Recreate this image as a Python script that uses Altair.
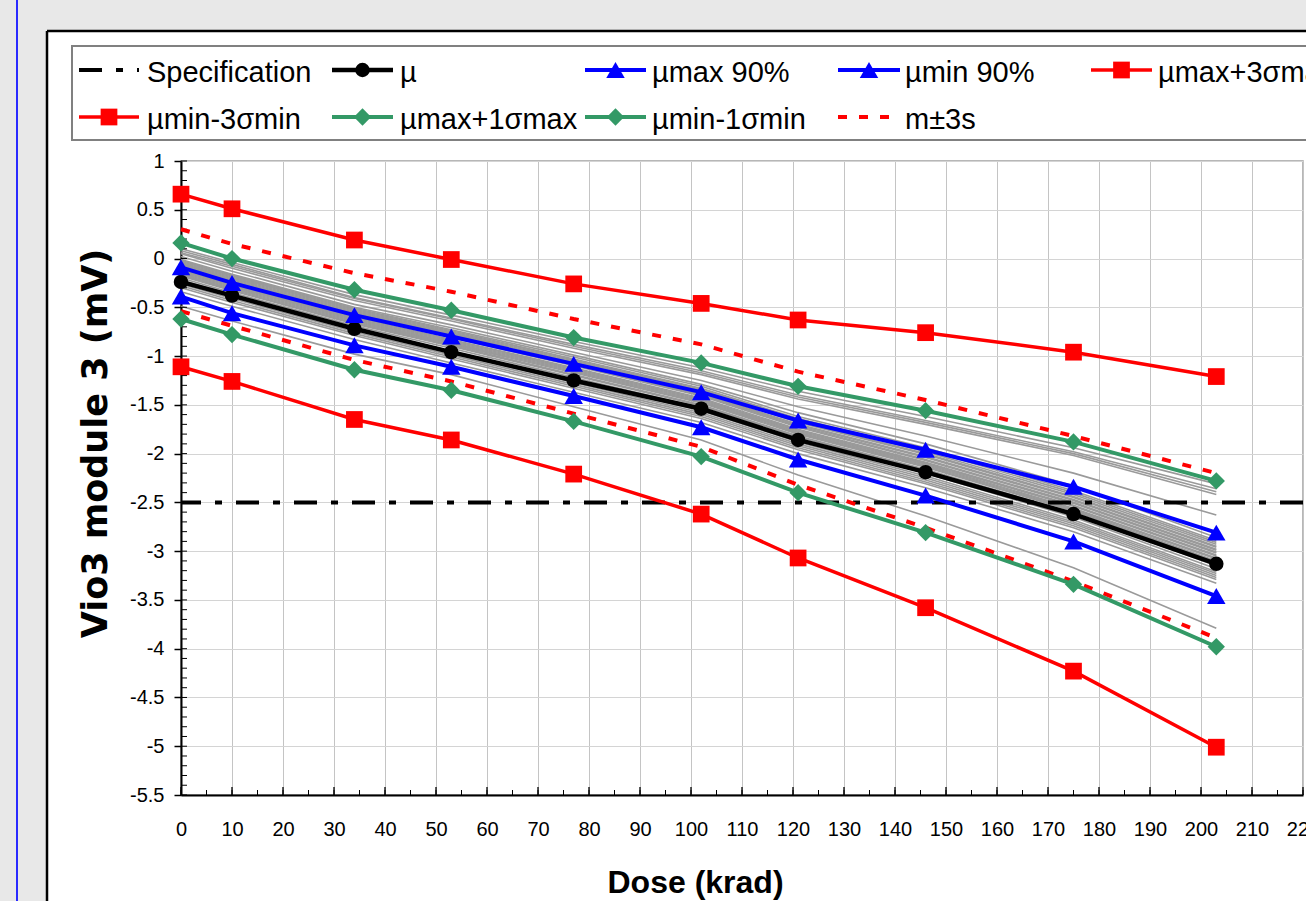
import altair as alt
import pandas as pd

# ---------------- data ----------------
DOSE = [0, 10, 34, 53, 77, 102, 121, 146, 175, 203]

MU = [-0.24, -0.38, -0.72, -0.96, -1.25, -1.54, -1.86, -2.19, -2.62, -3.13]
MU_MAX_90 = [-0.09, -0.25, -0.58, -0.80, -1.08, -1.37, -1.66, -1.96, -2.34, -2.81]
MU_MIN_90 = [-0.39, -0.56, -0.89, -1.11, -1.41, -1.73, -2.06, -2.43, -2.90, -3.46]
MU_MAX_3S = [0.66, 0.51, 0.19, -0.01, -0.26, -0.46, -0.63, -0.76, -0.96, -1.21]
MU_MIN_3S = [-1.11, -1.26, -1.65, -1.86, -2.21, -2.62, -3.07, -3.58, -4.23, -5.01]
MU_MAX_1S = [0.16, 0.00, -0.32, -0.53, -0.81, -1.07, -1.31, -1.56, -1.88, -2.28]
MU_MIN_1S = [-0.62, -0.78, -1.14, -1.35, -1.67, -2.03, -2.40, -2.81, -3.34, -3.98]
M_PLUS_3S = [0.30, 0.15, -0.15, -0.34, -0.62, -0.88, -1.16, -1.45, -1.82, -2.20]
M_MINUS_3S = [-0.54, -0.69, -1.04, -1.26, -1.59, -1.93, -2.32, -2.76, -3.31, -3.89]
SPEC = -2.5

GRAY = [
    [0.10, -0.04, -0.37, -0.58, -0.85, -1.12, -1.36, -1.62, -1.94, -2.31],
    [0.08, -0.06, -0.40, -0.61, -0.88, -1.15, -1.40, -1.66, -1.98, -2.36],
    [0.06, -0.08, -0.41, -0.62, -0.90, -1.17, -1.42, -1.68, -2.00, -2.39],
    [0.05, -0.10, -0.43, -0.64, -0.92, -1.19, -1.44, -1.70, -2.02, -2.42],
    [0.02, -0.13, -0.47, -0.68, -0.96, -1.25, -1.52, -1.82, -2.20, -2.63],
    [-0.01, -0.16, -0.50, -0.71, -0.99, -1.29, -1.58, -1.90, -2.33, -2.86],
    [-0.02, -0.17, -0.51, -0.73, -1.01, -1.31, -1.62, -1.94, -2.38, -2.89],
    [-0.03, -0.18, -0.52, -0.74, -1.03, -1.33, -1.64, -1.96, -2.40, -2.91],
    [-0.04, -0.19, -0.53, -0.75, -1.04, -1.34, -1.65, -1.98, -2.42, -2.93],
    [-0.05, -0.20, -0.54, -0.76, -1.05, -1.35, -1.67, -2.00, -2.44, -2.95],
    [-0.06, -0.21, -0.55, -0.77, -1.06, -1.36, -1.68, -2.01, -2.45, -2.96],
    [-0.07, -0.22, -0.56, -0.78, -1.07, -1.38, -1.70, -2.03, -2.47, -2.98],
    [-0.08, -0.23, -0.57, -0.79, -1.08, -1.39, -1.71, -2.04, -2.48, -2.99],
    [-0.09, -0.24, -0.58, -0.80, -1.09, -1.40, -1.72, -2.06, -2.50, -3.01],
    [-0.10, -0.25, -0.59, -0.81, -1.10, -1.41, -1.73, -2.07, -2.51, -3.02],
    [-0.11, -0.26, -0.60, -0.83, -1.12, -1.43, -1.75, -2.09, -2.53, -3.04],
    [-0.12, -0.27, -0.61, -0.84, -1.13, -1.44, -1.76, -2.10, -2.54, -3.05],
    [-0.13, -0.28, -0.62, -0.85, -1.14, -1.45, -1.77, -2.11, -2.56, -3.07],
    [-0.14, -0.29, -0.63, -0.86, -1.15, -1.46, -1.78, -2.12, -2.57, -3.08],
    [-0.15, -0.30, -0.64, -0.87, -1.16, -1.47, -1.79, -2.13, -2.58, -3.10],
    [-0.16, -0.31, -0.65, -0.88, -1.17, -1.48, -1.80, -2.14, -2.59, -3.11],
    [-0.17, -0.32, -0.66, -0.89, -1.19, -1.50, -1.82, -2.16, -2.61, -3.13],
    [-0.18, -0.33, -0.67, -0.90, -1.20, -1.51, -1.83, -2.17, -2.62, -3.15],
    [-0.20, -0.35, -0.69, -0.92, -1.22, -1.53, -1.85, -2.20, -2.65, -3.18],
    [-0.22, -0.37, -0.71, -0.95, -1.25, -1.56, -1.88, -2.23, -2.68, -3.21],
    [-0.24, -0.39, -0.73, -0.97, -1.27, -1.58, -1.90, -2.25, -2.70, -3.23],
    [-0.26, -0.41, -0.75, -0.99, -1.29, -1.60, -1.92, -2.27, -2.72, -3.25],
    [-0.28, -0.43, -0.77, -1.01, -1.31, -1.62, -1.94, -2.29, -2.74, -3.27],
    [-0.30, -0.45, -0.79, -1.03, -1.33, -1.64, -1.96, -2.31, -2.76, -3.29],
    [-0.34, -0.49, -0.83, -1.07, -1.37, -1.68, -2.00, -2.35, -2.80, -3.33],
    [-0.49, -0.64, -0.98, -1.19, -1.52, -1.86, -2.22, -2.64, -3.17, -3.79],
]

X_TICKS = list(range(0, 230, 10))
X_MINOR = list(range(0, 225, 5))
Y_TICKS = [1, 0.5, 0, -0.5, -1, -1.5, -2, -2.5, -3, -3.5, -4, -4.5, -5, -5.5]
Y_MINOR = [round(k / 10, 1) for k in range(-55, 11)]

# ---------------- layout ----------------
W, H = 1122, 634
PAD_L, PAD_T = 181, 161

RED, BLUE, GREEN, BLACK = "#ff0000", "#0000ff", "#339966", "#000000"

x_scale = alt.Scale(domain=[0, 220], nice=False, zero=False)
y_scale = alt.Scale(domain=[-5.5, 1], nice=False, zero=False)

x_axis = alt.Axis(
    values=X_TICKS, format="d", title="Dose (krad)",
    titleFont="Liberation Sans", titleFontSize=32, titleFontWeight="bold",
    titleColor="black", titleX=514, titleY=97, titleAlign="center",
    titleBaseline="alphabetic",
    labelFont="Liberation Sans", labelFontSize=20, labelColor="black",
    labelPadding=24, labelOverlap=False, labelFlush=False,
    ticks=False, tickSize=0, domainColor="black", domainWidth=2,
    grid=True, gridColor="#c4c4c4", gridWidth=1,
)
y_axis = alt.Axis(
    values=Y_TICKS, labelExpr="toString(datum.value)",
    title="Vio3 module 3 (mV)",
    titleFont="DejaVu Sans", titleFontSize=35, titleFontWeight="bold",
    titleColor="black", titleAngle=270, titleX=-86, titleY=282,
    titleAlign="center", titleBaseline="middle",
    labelFont="Liberation Sans", labelFontSize=20, labelColor="black",
    labelPadding=10, labelOverlap=False, labelFlush=False,
    tickSize=7, tickColor="black", tickWidth=1.5,
    domainColor="black", domainWidth=2,
    grid=True, gridColor="#d4d4d4", gridWidth=1,
)


def X(field="dose"):
    return alt.X(f"{field}:Q", scale=x_scale, axis=x_axis)


def Y(field="v"):
    return alt.Y(f"{field}:Q", scale=y_scale, axis=y_axis)


one = pd.DataFrame({"a": [0]})
layers = []

# ---------------- decorations (page around the chart) ----------------
BG = "#e8e8e8"
layers.append(alt.Chart(one).mark_rect(color=BG).encode(
    x=alt.value(-PAD_L), x2=alt.value(47 - PAD_L),
    y=alt.value(-PAD_T), y2=alt.value(901 - PAD_T)))
layers.append(alt.Chart(one).mark_rect(color=BG).encode(
    x=alt.value(-PAD_L), x2=alt.value(1306 - PAD_L + 5),
    y=alt.value(-PAD_T), y2=alt.value(31 - PAD_T)))
layers.append(alt.Chart(one).mark_rule(color="#2a2aff", strokeWidth=2).encode(
    x=alt.value(17 - PAD_L), y=alt.value(-PAD_T), y2=alt.value(901 - PAD_T)))
layers.append(alt.Chart(one).mark_rule(color="black", strokeWidth=2.5).encode(
    x=alt.value(47 - PAD_L), y=alt.value(31 - PAD_T), y2=alt.value(901 - PAD_T)))
layers.append(alt.Chart(one).mark_rule(color="black", strokeWidth=2.5).encode(
    y=alt.value(31 - PAD_T), x=alt.value(47 - PAD_L), x2=alt.value(1306 - PAD_L + 5)))
# legend box
layers.append(alt.Chart(one).mark_rect(fill="white", stroke="#808080", strokeWidth=2).encode(
    x=alt.value(72 - PAD_L), x2=alt.value(1306 - PAD_L + 20),
    y=alt.value(46 - PAD_T), y2=alt.value(140 - PAD_T)))

# ---------------- individual module curves (gray) ----------------
gray_rows = []
for i, vals in enumerate(GRAY):
    for d, v in zip(DOSE, vals):
        gray_rows.append({"dose": d, "v": v, "id": f"m{i}"})
gray_df = pd.DataFrame(gray_rows)
layers.append(alt.Chart(gray_df).mark_line(color="#9a9a9a", strokeWidth=1.6).encode(
    x=X(), y=Y(), detail="id:N"))

# ---------------- specification ----------------
layers.append(alt.Chart(pd.DataFrame({"v": [SPEC]})).mark_rule(
    color="black", strokeWidth=4, strokeDash=[23, 14, 7, 14]).encode(y=Y()))

# ---------------- minor ticks ----------------
layers.append(alt.Chart(pd.DataFrame({"v": Y_MINOR})).mark_rule(
    color="black", strokeWidth=1).encode(y=Y(), x=alt.value(0), x2=alt.value(6)))
layers.append(alt.Chart(pd.DataFrame({"dose": X_MINOR})).mark_rule(
    color="black", strokeWidth=1).encode(x=X(), y=alt.value(H), y2=alt.value(H - 5)))
layers.append(alt.Chart(pd.DataFrame({"dose": X_TICKS})).mark_rule(
    color="black", strokeWidth=1.3).encode(x=X(), y=alt.value(H), y2=alt.value(H - 8)))

# ---------------- series ----------------
def series(values, color, width, shape=None, size=0, dash=None):
    df = pd.DataFrame({"dose": DOSE, "v": values})
    base = alt.Chart(df).encode(x=X(), y=Y())
    kw = dict(color=color, strokeWidth=width)
    if dash:
        kw["strokeDash"] = dash
    out = [base.mark_line(**kw)]
    if shape:
        out.append(base.mark_point(shape=shape, size=size, filled=True,
                                   color=color, opacity=1))
    return out


STYLE = {
    "spec": dict(color=BLACK, width=4, dash=[23, 14, 7, 14]),
    "mu": dict(color=BLACK, width=4.5, shape="circle", size=210),
    "max90": dict(color=BLUE, width=4, shape="triangle-up", size=340),
    "min90": dict(color=BLUE, width=4, shape="triangle-up", size=340),
    "max3": dict(color=RED, width=3.5, shape="square", size=280),
    "min3": dict(color=RED, width=3.5, shape="square", size=280),
    "max1": dict(color=GREEN, width=4, shape="diamond", size=300),
    "min1": dict(color=GREEN, width=4, shape="diamond", size=300),
    "m3s": dict(color=RED, width=4, dash=[9, 12]),
}

layers += series(M_PLUS_3S, **STYLE["m3s"])
layers += series(M_MINUS_3S, **STYLE["m3s"])
layers += series(MU_MAX_1S, **STYLE["max1"])
layers += series(MU_MIN_1S, **STYLE["min1"])
layers += series(MU_MAX_3S, **STYLE["max3"])
layers += series(MU_MIN_3S, **STYLE["min3"])
layers += series(MU, **STYLE["mu"])
layers += series(MU_MAX_90, **STYLE["max90"])
layers += series(MU_MIN_90, **STYLE["min90"])

# ---------------- legend ----------------
LEGEND_LABELS = ["Specification", "µ", "µmax 90%", "µmin 90%", "µmax+3σmax",
                 "µmin-3σmin", "µmax+1σmax", "µmin-1σmin", "m±3s"]
LEGEND_KEYS = ["spec", "mu", "max90", "min90", "max3", "min3", "max1", "min1", "m3s"]
COL_SYM = [(79, 139), (332, 393), (585, 646), (838, 900), (1091, 1152)]
COL_TXT = [147, 400, 652, 905, 1158]
ROW_SYM = [70, 117]
ROW_TXT = [82, 129]

for idx, (lab, key) in enumerate(zip(LEGEND_LABELS, LEGEND_KEYS)):
    r, c = divmod(idx, 5)
    st = STYLE[key]
    x0, x1 = COL_SYM[c]
    ys = ROW_SYM[r] - PAD_T
    kw = dict(color=st["color"], strokeWidth=st["width"])
    if st.get("dash"):
        kw["strokeDash"] = st["dash"]
    layers.append(alt.Chart(one).mark_rule(**kw).encode(
        x=alt.value(x0 - PAD_L), x2=alt.value(x1 - PAD_L), y=alt.value(ys)))
    if st.get("shape"):
        layers.append(alt.Chart(one).mark_point(
            shape=st["shape"], size=st["size"], filled=True, color=st["color"], opacity=1
        ).encode(x=alt.value((x0 + x1) / 2 - PAD_L), y=alt.value(ys)))
    layers.append(alt.Chart(pd.DataFrame({"label": [lab]})).mark_text(
        align="left", baseline="alphabetic", font="Liberation Sans", fontSize=29,
        color="black").encode(
        x=alt.value(COL_TXT[c] - PAD_L), y=alt.value(ROW_TXT[r] - PAD_T), text="label:N"))

chart = alt.layer(*layers).properties(
    width=W, height=H,
    padding={"left": PAD_L, "top": PAD_T, "right": 1306 - PAD_L - W, "bottom": 901 - PAD_T - H},
    autosize=alt.AutoSizeParams(type="none"),
    background="white",
).configure_view(stroke="#a0a0a0", strokeWidth=1.5)

chart.save("out.html", embed_options={"renderer": "svg", "actions": False})
